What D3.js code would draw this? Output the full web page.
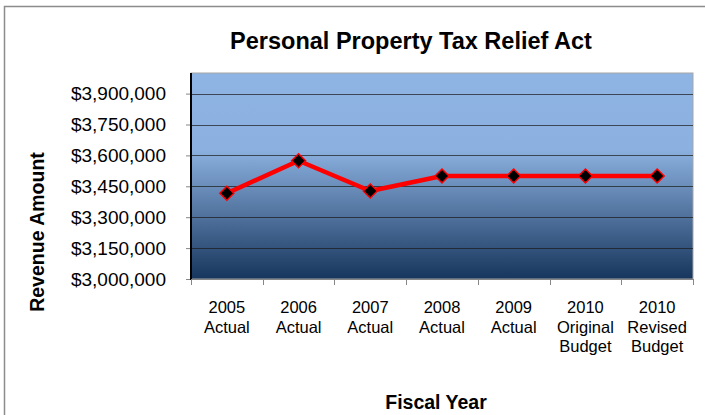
<!DOCTYPE html>
<html>
<head>
<meta charset="utf-8">
<script src="https://cdn.jsdelivr.net/npm/d3@7/dist/d3.min.js"></script>
<style>
  html, body { margin: 0; padding: 0; background: #fff; }
  svg { display: block; font-family: "Liberation Sans", Arial, sans-serif; }
</style>
</head>
<body>
<svg id="chart" width="705" height="415"></svg>
<script>
// Personal Property Tax Relief Act revenue by fiscal year
const categories = [
  ["2005", "Actual"],
  ["2006", "Actual"],
  ["2007", "Actual"],
  ["2008", "Actual"],
  ["2009", "Actual"],
  ["2010", "Original", "Budget"],
  ["2010", "Revised", "Budget"]
];
const values = [3416000, 3574000, 3427000, 3500000, 3500000, 3500000, 3500000];
const yTicks = [3000000, 3150000, 3300000, 3450000, 3600000, 3750000, 3900000];
const yDomain = [3000000, 4000000];

const svg = d3.select("#chart");
const plot = { left: 191, top: 73, right: 693, bottom: 279 };

// outer chart frame
svg.append("rect")
  .attr("x", 4.5).attr("y", 6.5)
  .attr("width", 900).attr("height", 600)
  .attr("fill", "#fff")
  .attr("stroke", "#8c8c8c").attr("stroke-width", 1.5);

const defs = svg.append("defs");
const grad = defs.append("linearGradient")
  .attr("id", "plotFill").attr("x1", 0).attr("y1", 0).attr("x2", 0).attr("y2", 1);
grad.append("stop").attr("offset", "0").attr("stop-color", "#8EB4E3");
grad.append("stop").attr("offset", "0.37").attr("stop-color", "#8CB1E0");
grad.append("stop").attr("offset", "1").attr("stop-color", "#17365D");

const x = d3.scaleBand()
  .domain(categories.map((c, i) => i))
  .range([plot.left, plot.right])
  .paddingInner(0).paddingOuter(0);

const y = d3.scaleLinear().domain(yDomain).range([plot.bottom, plot.top]);

// plot background
svg.append("rect")
  .attr("x", plot.left).attr("y", plot.top)
  .attr("width", plot.right - plot.left).attr("height", plot.bottom - plot.top)
  .attr("fill", "url(#plotFill)")
  .attr("stroke", "#a6a6a6").attr("stroke-width", 1);

// horizontal gridlines
svg.append("g")
  .selectAll("line")
  .data(yTicks.slice(1))
  .join("line")
  .attr("x1", plot.left).attr("x2", plot.right)
  .attr("y1", d => Math.round(y(d)) + 0.5).attr("y2", d => Math.round(y(d)) + 0.5)
  .attr("stroke", "#1a1a1a").attr("stroke-opacity", 0.7).attr("stroke-width", 1);

// y axis
const fmt = d => "$" + d3.format(",")(d);
const yAxis = svg.append("g")
  .attr("transform", `translate(${plot.left},0)`)
  .call(d3.axisLeft(y).tickValues(yTicks).tickFormat(fmt).tickSize(5).tickPadding(20));
yAxis.select(".domain").remove();
yAxis.selectAll(".tick line").attr("stroke", "#868686");
yAxis.selectAll(".tick text")
  .attr("font-size", 19).attr("fill", "#000")
  .attr("font-family", "Liberation Sans, Arial, sans-serif");
svg.append("line")
  .attr("x1", plot.left).attr("x2", plot.left)
  .attr("y1", plot.top).attr("y2", plot.bottom + 1)
  .attr("stroke", "#000").attr("stroke-width", 2);

// x axis with ticks at category boundaries
const xAxisG = svg.append("g").attr("transform", `translate(0,${plot.bottom})`);
xAxisG.append("line")
  .attr("x1", plot.left).attr("x2", plot.right)
  .attr("y1", 0.5).attr("y2", 0.5)
  .attr("stroke", "#868686");
const bounds = categories.map((c, i) => x(i)).concat([x(categories.length - 1) + x.bandwidth()]);
xAxisG.selectAll("line.tick")
  .data(bounds)
  .join("line").attr("class", "tick")
  .attr("x1", d => Math.round(d) + 0.5).attr("x2", d => Math.round(d) + 0.5)
  .attr("y1", 0).attr("y2", 6)
  .attr("stroke", "#868686");

const labels = xAxisG.selectAll("text.cat")
  .data(categories)
  .join("text").attr("class", "cat")
  .attr("text-anchor", "middle")
  .attr("font-size", 16.5)
  .attr("fill", "#000")
  .attr("x", (d, i) => x(i) + x.bandwidth() / 2);
labels.selectAll("tspan")
  .data(d => d)
  .join("tspan")
  .attr("x", function () { return d3.select(this.parentNode).attr("x"); })
  .attr("y", (d, j) => 34 + j * 19.5)
  .text(d => d);

// series line and markers
const line = d3.line()
  .x((d, i) => x(i) + x.bandwidth() / 2)
  .y(d => y(d));
svg.append("path")
  .datum(values)
  .attr("d", line)
  .attr("fill", "none")
  .attr("stroke", "#ff0000")
  .attr("stroke-width", 4.5)
  .attr("stroke-linejoin", "round");

const r = 7;
svg.append("g")
  .selectAll("path")
  .data(values)
  .join("path")
  .attr("transform", (d, i) => `translate(${x(i) + x.bandwidth() / 2},${y(d)})`)
  .attr("d", `M0,${-r}L${r},0L0,${r}L${-r},0Z`)
  .attr("fill", "#000")
  .attr("stroke", "#ff0000")
  .attr("stroke-width", 1.5);

// titles
svg.append("text")
  .attr("x", 411).attr("y", 49)
  .attr("text-anchor", "middle")
  .attr("font-size", 23.5).attr("font-weight", "bold")
  .text("Personal Property Tax Relief Act");

svg.append("text")
  .attr("transform", "translate(44,232) rotate(-90)")
  .attr("text-anchor", "middle")
  .attr("font-size", 19.5).attr("font-weight", "bold")
  .text("Revenue Amount");

svg.append("text")
  .attr("x", 436).attr("y", 409)
  .attr("text-anchor", "middle")
  .attr("font-size", 19.5).attr("font-weight", "bold")
  .text("Fiscal Year");
</script>
</body>
</html>
